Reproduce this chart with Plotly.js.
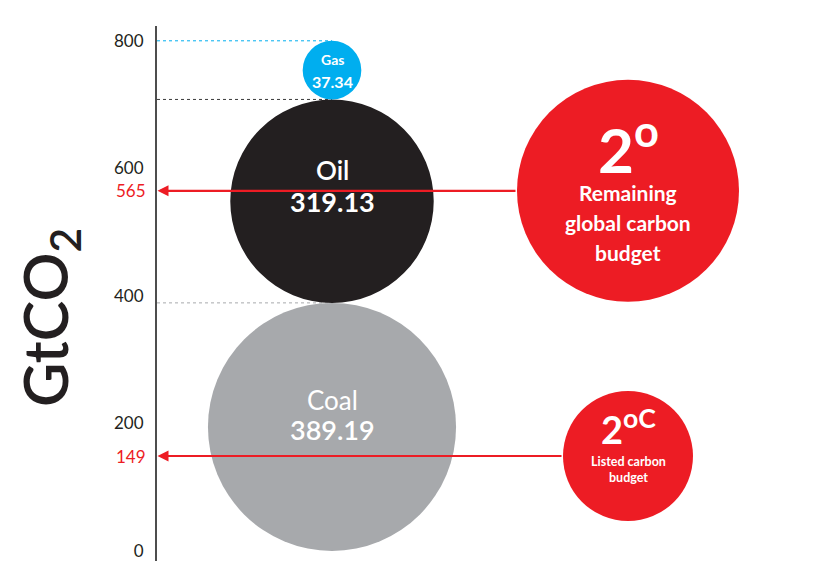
<!DOCTYPE html>
<html><head><meta charset="utf-8">
<script src="https://cdn.plot.ly/plotly-3.0.1.min.js"></script>
<style>html,body{margin:0;padding:0;background:#fff}#chart{width:820px;height:561px}</style>
</head><body><div id="chart"></div>
<script>
// ---- data ----
const fuels = ['Coal', 'Oil', 'Gas'];
const reserves = [389.19, 319.13, 37.34];
const budgetValues = [565, 149];
const budgetHeads = ['2<sup>o</sup>', '2<sup>oC</sup>'];
const budgetLabels = [['Remaining', 'global carbon', 'budget'], ['Listed carbon', 'budget']];
const yTickVals = [0, 200, 400, 600, 800];
const yTickText = ['0', '200', '400', '600', '800'];

// ---- style ----
const W = 820, H = 561, ML = 157, MT = 26;
const PX = 0.6375;                         // pixels per GtCO2 (square scale)
const plotW = W - ML, plotH = H - MT;
const yBottom = -10 / PX, yTop = yBottom + plotH / PX;
const xMax = plotW / PX;
const fuelColors = ['#a7a9ac', '#231f20', '#00aeef'];
const lineColors = ['#a7a9ac', '#3a3a3a', '#00aeef'];
const minLabelDiameter = 92;               // keep tiny bubbles readable
const stackX = 175 / PX;
const budgetX = 471 / PX;
const budgetRadiusPx = [111, 65];
const RED = '#ed1c24';
const FONT = 'Lato, "Open Sans", sans-serif';
const nameFont = [26, 26, 14], valueFont = [27, 27, 16];
const nameWeight = [400, 600, 700], valueWeight = [600, 700, 700];
const nameShift = [27, 31, 11], valueShift = [-3, 0, -11];

const shapes = [], annotations = [];
let base = 0;
reserves.forEach((v, i) => {
  const d = Math.max(v, minLabelDiameter);
  const top = base + d;
  shapes.push({type: 'line', xref: 'x', yref: 'y', x0: 0, x1: stackX, y0: top, y1: top,
    line: {color: lineColors[i], width: 1, dash: '3px,3px'}, layer: 'below'});
  shapes.push({type: 'circle', xref: 'x', yref: 'y', x0: stackX - d / 2, x1: stackX + d / 2,
    y0: base, y1: top, fillcolor: fuelColors[i], line: {width: 0}, layer: 'above'});
  const cy = base + d / 2;
  annotations.push({xref: 'x', yref: 'y', x: stackX, y: cy, yshift: nameShift[i], showarrow: false,
    text: fuels[i], font: {family: FONT, size: nameFont[i], color: '#fff', weight: nameWeight[i]}});
  annotations.push({xref: 'x', yref: 'y', x: stackX, y: cy, yshift: valueShift[i], showarrow: false,
    text: v.toFixed(2), font: {family: FONT, size: valueFont[i], color: '#fff', weight: valueWeight[i]}});
  base = top;
});

// budget arrows, red tick labels and circle texts
const headSize = [62, 38], headShift = [46, 29];
const labelSize = [21, 12.5], labelStep = [30, 16], labelStart = [-2, -5];
budgetValues.forEach((v, i) => {
  const r = budgetRadiusPx[i] / PX;
  annotations.push({xref: 'x', yref: 'y', axref: 'x', ayref: 'y', x: 0.8, y: v, ax: budgetX - r, ay: v,
    text: '', showarrow: true, arrowhead: 2, arrowsize: 1, arrowwidth: 2.2, arrowcolor: RED, standoff: 0});
  annotations.push({xref: 'x', yref: 'y', x: 0, y: v, xanchor: 'right', xshift: -9, showarrow: false,
    text: String(v), font: {family: FONT, size: 17, color: RED}});
  annotations.push({xref: 'x', yref: 'y', x: budgetX, y: v, yshift: headShift[i], showarrow: false,
    text: budgetHeads[i], font: {family: FONT, size: headSize[i], color: '#fff', weight: 700}});
  budgetLabels[i].forEach((t, k) => {
    annotations.push({xref: 'x', yref: 'y', x: budgetX, y: v, yshift: labelStart[i] - k * labelStep[i],
      showarrow: false, text: t, font: {family: FONT, size: labelSize[i], color: '#fff', weight: 700}});
  });
});

// axis title
annotations.push({xref: 'paper', yref: 'paper', x: -108 / plotW, y: (H - 318) / plotH, xanchor: 'center',
  yanchor: 'middle', textangle: -90, showarrow: false, text: 'GtCO<sub>2</sub>',
  font: {family: FONT, size: 61, color: '#231f20', weight: 600}});

const traces = [{
  type: 'scatter', mode: 'markers', x: budgetValues.map(() => budgetX), y: budgetValues,
  marker: {size: budgetRadiusPx.map(r => 2 * r), color: RED, line: {width: 0}, opacity: 1},
  hoverinfo: 'skip', showlegend: false
}];

const layout = {
  width: W, height: H, margin: {l: ML, r: 0, t: MT, b: 0, pad: 0},
  paper_bgcolor: '#fff', plot_bgcolor: '#fff', showlegend: false,
  xaxis: {range: [0, xMax], visible: false, showgrid: false, zeroline: false, fixedrange: true},
  yaxis: {range: [yBottom, yTop], showgrid: false, zeroline: false, showline: true, linecolor: '#4d4d4d',
    linewidth: 2, ticks: '', tickvals: yTickVals, ticktext: yTickText, ticklabelstandoff: 8,
    tickfont: {family: FONT, size: 17, color: '#231f20'}, fixedrange: true},
  shapes: shapes, annotations: annotations
};
Plotly.newPlot('chart', traces, layout, {displayModeBar: false, staticPlot: true});
</script></body></html>
